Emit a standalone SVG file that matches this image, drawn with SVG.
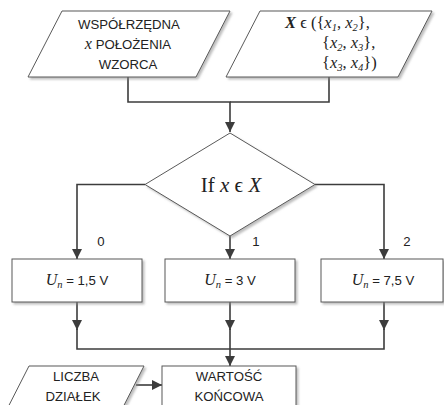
<svg xmlns="http://www.w3.org/2000/svg" width="444" height="405" viewBox="0 0 444 405">
<defs>
<filter id="sh" x="-10%" y="-10%" width="130%" height="130%">
<feDropShadow dx="2" dy="2" stdDeviation="1" flood-color="#888" flood-opacity="0.55"/>
</filter>
<marker id="ah" markerUnits="userSpaceOnUse" markerWidth="10" markerHeight="10" refX="10" refY="5" orient="auto">
<path d="M0,0 L10,5 L0,10 z" fill="#3c3c3c"/>
</marker>
</defs>
<style>
.shape{fill:#fff;stroke:#595959;stroke-width:1;filter:url(#sh)}
.conn{fill:none;stroke:#3c3c3c;stroke-width:1.6}
.sans{font-family:"Liberation Sans",Arial,sans-serif;font-size:13.2px;fill:#222}
.serif{font-family:"Liberation Serif","DejaVu Serif",serif;fill:#222}
.it{font-style:italic}
.sub{font-size:10.5px}
</style>
<g id="connectors">
<path class="conn" d="M128,77 V102 H230 V132" marker-end="url(#ah)"/>
<path class="conn" d="M329,77 V102 H230"/>
<path class="conn" d="M145,184.5 H77 V259" marker-end="url(#ah)"/>
<path class="conn" d="M230,236 V259" marker-end="url(#ah)"/>
<path class="conn" d="M315,184.5 H384 V259" marker-end="url(#ah)"/>
<path class="conn" d="M77,302 V330" marker-end="url(#ah)"/>
<path class="conn" d="M77,329 V349 H384 V329"/>
<path class="conn" d="M384,302 V330" marker-end="url(#ah)"/>
<path class="conn" d="M230,302 V330" marker-end="url(#ah)"/>
<path class="conn" d="M230,329 V366" marker-end="url(#ah)"/>
<path class="conn" d="M136,385 H162" marker-end="url(#ah)"/>
</g>
<g id="input-x">
<polygon class="shape" points="62,11 230,11 196,77 28,77"/>
<text class="sans" x="129" y="29" text-anchor="middle">WSPÓŁRZĘDNA</text>
<text class="sans" x="128" y="49" text-anchor="middle"><tspan class="serif it" font-size="16">x</tspan> POŁOŻENIA</text>
<text class="sans" x="128" y="69" text-anchor="middle">WZORCA</text>
</g>
<g id="input-X">
<polygon class="shape" points="260,11 432,11 398,77 226,77"/>
<text class="serif" font-size="16.5" x="285" y="28"><tspan font-weight="bold" font-style="italic">X</tspan> ϵ ({<tspan class="it">x</tspan><tspan class="it sub" baseline-shift="-3">1</tspan>, <tspan class="it">x</tspan><tspan class="it sub" baseline-shift="-3">2</tspan>},</text>
<text class="serif" font-size="16.5" x="322" y="48">{<tspan class="it">x</tspan><tspan class="it sub" baseline-shift="-3">2</tspan>, <tspan class="it">x</tspan><tspan class="it sub" baseline-shift="-3">3</tspan>},</text>
<text class="serif" font-size="16.5" x="322" y="68">{<tspan class="it">x</tspan><tspan class="it sub" baseline-shift="-3">3</tspan>, <tspan class="it">x</tspan><tspan class="it sub" baseline-shift="-3">4</tspan>})</text>
</g>
<g id="decision">
<polygon class="shape" points="230,133 315,184.5 230,236 145,184.5"/>
<text class="serif" font-size="21" x="231" y="192" text-anchor="middle">If <tspan class="it">x</tspan> ϵ <tspan class="it">X</tspan></text>
</g>
<g id="labels">
<text class="sans" font-size="12.5" x="101" y="246" text-anchor="middle">0</text>
<text class="sans" font-size="12.5" x="256" y="246" text-anchor="middle">1</text>
<text class="sans" font-size="12.5" x="407" y="246" text-anchor="middle">2</text>
</g>
<g id="box-0">
<rect class="shape" x="12" y="259" width="130" height="43"/>
<text class="sans" x="77" y="285" text-anchor="middle"><tspan class="serif it" font-size="16">U</tspan><tspan class="serif it sub" baseline-shift="-3">n</tspan> = 1,5 V</text>
</g>
<g id="box-1">
<rect class="shape" x="165" y="259" width="130" height="43"/>
<text class="sans" x="230" y="285" text-anchor="middle"><tspan class="serif it" font-size="16">U</tspan><tspan class="serif it sub" baseline-shift="-3">n</tspan> = 3 V</text>
</g>
<g id="box-2">
<rect class="shape" x="321" y="259" width="122" height="43"/>
<text class="sans" x="383" y="285" text-anchor="middle"><tspan class="serif it" font-size="16">U</tspan><tspan class="serif it sub" baseline-shift="-3">n</tspan> = 7,5 V</text>
</g>
<g id="input-liczba">
<polygon class="shape" points="29,366 144,366 121.6,410 6.6,410"/>
<text class="sans" x="76" y="381" text-anchor="middle">LICZBA</text>
<text class="sans" x="73" y="401" text-anchor="middle">DZIAŁEK</text>
</g>
<g id="result">
<rect class="shape" x="162" y="366" width="134" height="50"/>
<text class="sans" x="229" y="381" text-anchor="middle">WARTOŚĆ</text>
<text class="sans" x="229" y="401" text-anchor="middle">KOŃCOWA</text>
</g>
</svg>
